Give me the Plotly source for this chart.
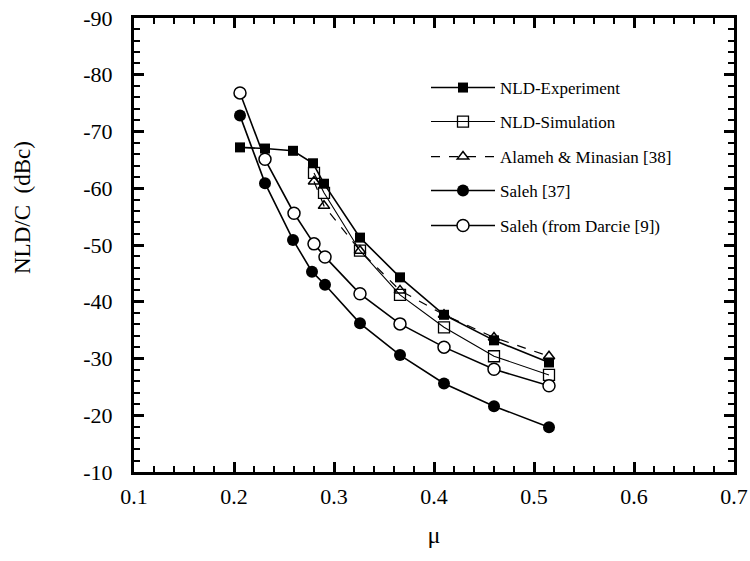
import plotly.graph_objects as go

x_exp = [0.206, 0.231, 0.259, 0.279, 0.290, 0.326, 0.366, 0.410, 0.460, 0.515]
y_exp = [-67.2, -67.0, -66.6, -64.4, -60.8, -51.3, -44.3, -37.7, -33.2, -29.3]

x_sim = [0.280, 0.290, 0.326, 0.366, 0.410, 0.460, 0.515]
y_sim = [-62.7, -59.2, -49.0, -41.2, -35.5, -30.4, -27.1]

x_ala = [0.280, 0.290, 0.326, 0.366, 0.410, 0.460, 0.515]
y_ala = [-61.2, -56.9, -49.0, -42.0, -37.7, -33.7, -30.4]

x_sal = [0.206, 0.231, 0.259, 0.278, 0.291, 0.326, 0.366, 0.410, 0.460, 0.515]
y_sal = [-72.8, -60.9, -50.9, -45.3, -43.0, -36.2, -30.6, -25.6, -21.6, -17.9]

x_dar = [0.206, 0.231, 0.260, 0.280, 0.291, 0.326, 0.366, 0.410, 0.460, 0.515]
y_dar = [-76.8, -65.1, -55.6, -50.2, -47.9, -41.4, -36.1, -32.0, -28.1, -25.2]

x_ticks = [0.1, 0.2, 0.3, 0.4, 0.5, 0.6, 0.7]
y_ticks = [-90, -80, -70, -60, -50, -40, -30, -20, -10]

FONT = "Liberation Serif"
X_RANGE = [0.1, 0.7]
Y_RANGE = [-10, -90]

series = [
    ("NLD-Experiment", x_exp, y_exp, dict(color="black", width=1.6),
     dict(symbol="square", size=10, color="black")),
    ("NLD-Simulation", x_sim, y_sim, dict(color="black", width=1.1),
     dict(symbol="square-open", size=11, color="black", line=dict(width=1.3))),
    ("Alameh & Minasian [38]", x_ala, y_ala, dict(color="black", width=1.2, dash="dash"),
     dict(symbol="triangle-up-open", size=10, color="black", line=dict(width=1.5))),
    ("Saleh [37]", x_sal, y_sal, dict(color="black", width=1.6),
     dict(symbol="circle", size=12, color="black")),
    ("Saleh (from Darcie [9])", x_dar, y_dar, dict(color="black", width=1.6),
     dict(symbol="circle", size=12, color="white", line=dict(color="black", width=1.5))),
]

fig = go.Figure()
# empty trace so that the minor-tick overlay axes are drawn
fig.add_trace(go.Scatter(x=[], y=[], xaxis="x2", yaxis="y2", showlegend=False, hoverinfo="skip"))

legend_names = ["legend", "legend2", "legend3", "legend4", "legend5"]
for (name, xs, ys, ln, mk), lg in zip(series, legend_names):
    fig.add_trace(go.Scatter(x=xs, y=ys, name=name, mode="lines+markers",
                             line=ln, marker=mk, legend=lg))

axis_common = dict(showline=True, linecolor="black", linewidth=3, mirror="allticks",
                   ticks="inside", ticklen=10, tickwidth=3, tickcolor="black",
                   showgrid=False, zeroline=False, automargin=False,
                   tickfont=dict(family=FONT, size=22, color="black"))

minor_common = dict(showline=False, mirror="allticks",
                    ticks="inside", ticklen=6, tickwidth=2, tickcolor="black",
                    showgrid=False, zeroline=False, automargin=False,
                    showticklabels=False, tickmode="linear")

fig.update_layout(
    xaxis=dict(range=X_RANGE, tickmode="array", tickvals=x_ticks,
               ticktext=[f"{v:.1f}" for v in x_ticks], ticklabelstandoff=3,
               title=dict(text="μ", font=dict(family=FONT, size=24, color="black"), standoff=18),
               **axis_common),
    yaxis=dict(range=Y_RANGE, tickmode="array", tickvals=y_ticks,
               ticktext=[str(v) for v in y_ticks], ticklabelstandoff=14,
               **axis_common),
    xaxis2=dict(range=X_RANGE, overlaying="x", anchor="y2", side="bottom",
                tick0=0.1, dtick=0.02, **minor_common),
    yaxis2=dict(range=Y_RANGE, overlaying="y", anchor="x2", side="left",
                tick0=-90, dtick=2, **minor_common),
)

fig.add_annotation(text="NLD/C  (dBc)", xref="paper", yref="paper",
                   x=-(134 - 23) / 600, y=1 - (208 - 18) / 454, textangle=-90,
                   showarrow=False, xanchor="center", yanchor="middle",
                   font=dict(family=FONT, size=23, color="black"))

leg_y = [88, 122, 157, 191, 226]
layout_legends = {}
for lg, py in zip(legend_names, leg_y):
    layout_legends[lg] = dict(x=(426 - 134) / 600, y=1 - (py - 18) / 454,
                              xanchor="left", yanchor="middle",
                              bgcolor="rgba(0,0,0,0)", borderwidth=0,
                              font=dict(family=FONT, size=17, color="black"),
                              itemwidth=64)

fig.update_layout(
    width=750, height=561,
    margin=dict(l=134, r=16, t=18, b=89),
    paper_bgcolor="white", plot_bgcolor="white",
    showlegend=True,
    **layout_legends,
)

fig.write_html("out.html")
